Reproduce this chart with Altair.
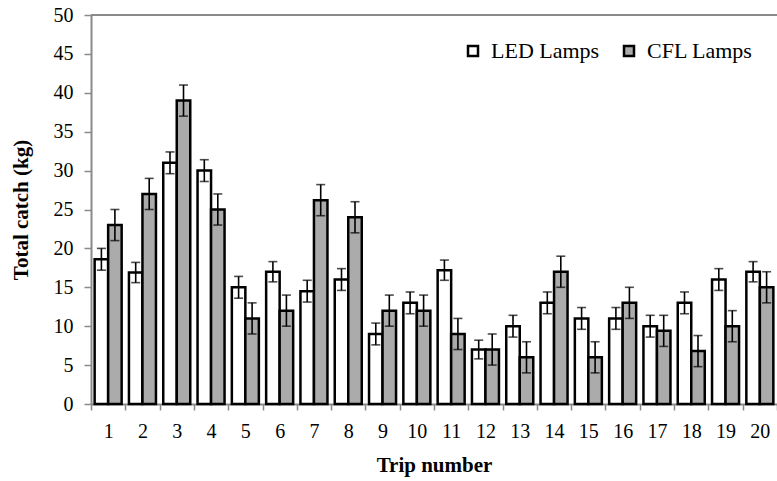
import altair as alt
import pandas as pd

# Catch per trip for the two lamp types, with error-bar half widths
trips = list(range(1, 21))
lamps = ["LED Lamps", "CFL Lamps"]
led = [18.6, 16.9, 31.0, 30.0, 15.0, 17.0, 14.5, 16.0, 9.0, 13.0,
       17.2, 7.0, 10.0, 13.0, 11.0, 11.0, 10.0, 13.0, 16.0, 17.0]
led_err = [1.4, 1.3, 1.4, 1.4, 1.4, 1.3, 1.4, 1.4, 1.4, 1.4,
           1.3, 1.2, 1.4, 1.4, 1.4, 1.4, 1.4, 1.4, 1.4, 1.3]
cfl = [23.0, 27.0, 39.0, 25.0, 11.0, 12.0, 26.2, 24.0, 12.0, 12.0,
       9.0, 7.0, 6.0, 17.0, 6.0, 13.0, 9.4, 6.8, 10.0, 15.0]
cfl_err = [2.0, 2.0, 2.0, 2.0, 2.0, 2.0, 2.0, 2.0, 2.0, 2.0,
           2.0, 2.0, 2.0, 2.0, 2.0, 2.0, 2.0, 2.0, 2.0, 2.0]
y_ticks = [0, 5, 10, 15, 20, 25, 30, 35, 40, 45, 50]

rows = []
for t, v, e in zip(trips, led, led_err):
    rows.append({"trip": t, "lamp": lamps[0], "value": v, "lo": v - e, "hi": v + e})
for t, v, e in zip(trips, cfl, cfl_err):
    rows.append({"trip": t, "lamp": lamps[1], "value": v, "lo": v - e, "hi": v + e})
df = pd.DataFrame(rows)

FONT = "Liberation Serif"
AXIS_GREY = "#8a8a8a"

x_enc = alt.X(
    "trip:O", sort=trips,
    scale=alt.Scale(paddingInner=0, paddingOuter=0),
    axis=alt.Axis(title="Trip number", labelAngle=0, tickBand="extent",
                  domainColor=AXIS_GREY, domainWidth=2, tickColor=AXIS_GREY,
                  tickWidth=1.5, tickSize=6, labelFont=FONT, labelFontSize=20,
                  labelPadding=11, labelColor="black", labelOverlap=False,
                  titleFont=FONT, titleFontSize=21, titleFontWeight="bold",
                  titleColor="black", titlePadding=13, grid=False),
)
xo_enc = alt.XOffset("lamp:N", sort=lamps,
                     scale=alt.Scale(domain=lamps, paddingInner=0, paddingOuter=0.27))
y_scale = alt.Scale(domain=[0, 50], nice=False)
y_axis = alt.Axis(title="Total catch (kg)", values=y_ticks, tickCount=11,
                  domainColor=AXIS_GREY, domainWidth=2, tickColor=AXIS_GREY,
                  tickWidth=1.5, tickSize=7, labelFont=FONT, labelFontSize=20,
                  labelPadding=11, labelColor="black", labelOverlap=False,
                  titleFont=FONT, titleFontSize=21, titleFontWeight="bold",
                  titleColor="black", titlePadding=22, grid=False)

base = alt.Chart(df).encode(x=x_enc, xOffset=xo_enc)

bars = base.mark_bar(stroke="black", strokeWidth=2.5).encode(
    y=alt.Y("value:Q", scale=y_scale, axis=y_axis),
    fill=alt.Fill("lamp:N", sort=lamps,
                  scale=alt.Scale(domain=lamps, range=["white", "#ababab"]),
                  legend=alt.Legend(title=None, orient="none", direction="horizontal",
                                    legendX=371, legendY=25, symbolType="square",
                                    symbolSize=100, symbolStrokeColor="black",
                                    symbolStrokeWidth=2.5, labelFont=FONT,
                                    labelFontSize=22, labelColor="black",
                                    labelOffset=7, columnPadding=18, padding=0)),
)

whiskers = base.mark_rule(color="black", strokeWidth=1.6).encode(
    y=alt.Y("lo:Q", scale=y_scale, axis=y_axis), y2="hi:Q")
cap_hi = base.mark_tick(color="black", size=9, thickness=1.6).encode(
    y=alt.Y("hi:Q", scale=y_scale, axis=y_axis))
cap_lo = base.mark_tick(color="black", size=9, thickness=1.6).encode(
    y=alt.Y("lo:Q", scale=y_scale, axis=y_axis))

# upper frame line of the plot area at the top of the value range
frame = alt.Chart(pd.DataFrame({"top": [y_ticks[-1]]})).mark_rule(
    color=AXIS_GREY, strokeWidth=2).encode(y=alt.Y("top:Q", scale=y_scale, axis=y_axis))

chart = alt.layer(bars, whiskers, cap_hi, cap_lo, frame).properties(
    width=686, height=389,
    autosize=alt.AutoSizeParams(type="none"),
    padding={"left": 91, "top": 15, "right": 0, "bottom": 77},
).configure(font=FONT).configure_view(stroke=None).configure_legend(
    labelFont=FONT
).configure_axis(labelFont=FONT, titleFont=FONT)

chart.save("out.html", embed_options={"renderer": "svg", "actions": False})
